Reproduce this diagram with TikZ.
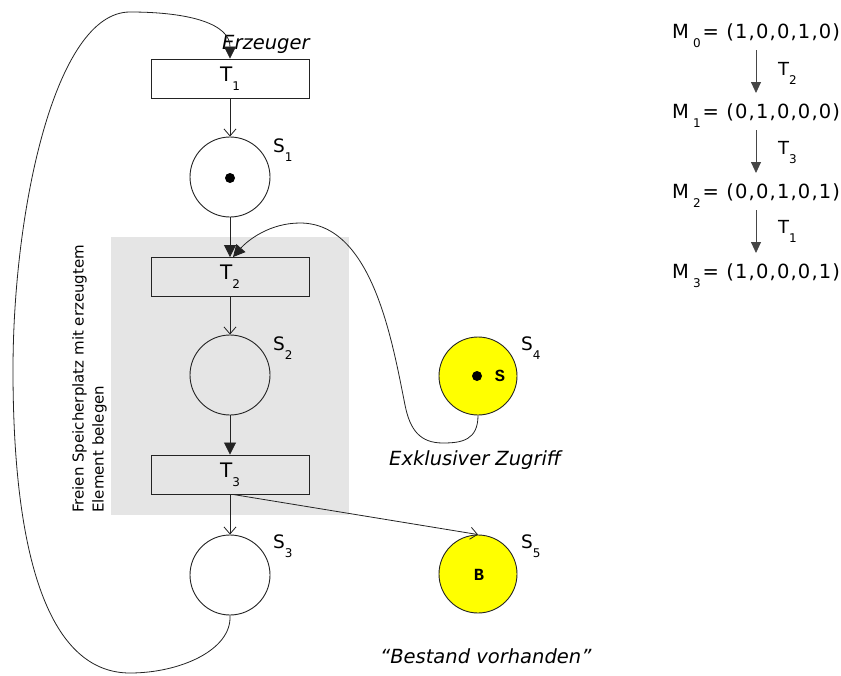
\documentclass[tikz,border=0pt]{standalone}
\usepackage{fontspec}
\setmainfont{DejaVu Sans}
\newfontfamily\monob{Liberation Mono}
\newfontfamily\wide[LetterSpace=6]{DejaVu Sans}
\usetikzlibrary{arrows.meta}
\definecolor{lgray}{RGB}{229,229,229}
\definecolor{yel}{RGB}{255,255,0}
\definecolor{ln}{RGB}{35,35,35}
\definecolor{mln}{RGB}{70,70,70}
\newcommand\mysub[1]{\raisebox{-9pt}{\fontsize{12}{12}\selectfont #1}}
\begin{document}
\begin{tikzpicture}[x=1pt,y=-1pt,
  trans/.style={draw=ln, line width=0.9pt, minimum width=158pt, minimum height=39pt, inner sep=0pt, font=\fontsize{20}{20}\selectfont},
  place/.style={circle, draw=ln, line width=0.9pt, minimum size=80pt, inner sep=0pt},
  yplace/.style={place, fill=yel, minimum size=78pt},
  token/.style={circle, fill=black, minimum size=10pt, inner sep=0pt},
  slabel/.style={anchor=base west, inner sep=0pt, font=\fontsize{18.5}{18}\selectfont},
  itlabel/.style={anchor=base west, inner sep=0pt, font=\fontsize{19.5}{20}\selectfont\itshape},
  mlabel/.style={anchor=base west, inner sep=0pt, font=\fontsize{19.5}{18}\selectfont},
  tlabel/.style={anchor=base west, inner sep=0pt, font=\fontsize{18}{17}\selectfont},
  mono/.style={font=\fontsize{17}{17}\selectfont\monob\bfseries, inner sep=0pt},
  conn/.style={draw=ln, line width=0.8pt},
  openarr/.style={conn, -{Straight Barb[length=7pt,width=12pt]}},
  fillarr/.style={conn, -{Triangle[length=12pt,width=12pt]}},
  marr/.style={draw=mln, line width=0.9pt, -{Triangle[length=11pt,width=10pt]}},
]
\useasboundingbox (0,0) rectangle (841,675);
% grey background region
\fill[lgray] (111,237) rectangle (349,515);
\node[rotate=90, anchor=north west, align=left, inner sep=0pt, font=\fontsize{15}{20}\selectfont] (region) at (72,513) {Freien Speicherplatz mit erzeugtem\\Element belegen};

% transitions
\node[trans, fill=white] (T1) at (230,78.5) {T\mysub{1}};
\node[trans] (T2) at (230,277) {T\mysub{2}};
\node[trans] (T3) at (230,474.5) {T\mysub{3}};

% places
\node[place, fill=white] (S1) at (230,177) {};
\node[place] (S2) at (230,375) {};
\node[place, fill=white] (S3) at (230,575) {};
\node[yplace] (S4) at (478,376) {};
\node[yplace] (S5) at (478,574) {};

\node[token] (tok1) at (230,178) {};
\node[token] (tok4) at (477,376) {};
\node[mono] (sem) at (500,376) {S};
\node[mono] (bes) at (479,575) {B};

% place labels
\node[slabel] (L1) at (273,152) {S\mysub{1}};
\node[slabel] (L2) at (273,350) {S\mysub{2}};
\node[slabel] (L3) at (273,548) {S\mysub{3}};
\node[slabel] (L4) at (521,350) {S\mysub{4}};
\node[slabel] (L5) at (521,548) {S\mysub{5}};

% italic captions
\node[itlabel] (erz) at (222,49) {Erzeuger};
\node[itlabel] (exk) at (389,465) {Exklusiver Zugriff};
\node[itlabel] (bst) at (380,663) {“Bestand vorhanden”};

% arcs
\draw[openarr] (T1) -- (S1);
\draw[fillarr] (S1) -- (T2);
\draw[openarr] (T2) -- (S2);
\draw[fillarr] (S2) -- (T3);
\draw[openarr] (T3) -- (S3);
\draw[openarr] ([xshift=3pt]T3.south) -- (S5.north);
\draw[fillarr] (S4.south) .. controls (478,440) and (462,443) .. (443,443)
  .. controls (420,443) and (410,430) .. (405,405)
  .. controls (392,340) and (372,223) .. (300,223)
  .. controls (270,223) and (248,240) .. ([xshift=3pt]T2.north);
\draw[fillarr] (S3.south) .. controls (232,650) and (180,673) .. (130,673)
  .. controls (50,673) and (13,560) .. (13,370)
  .. controls (13,210) and (55,12) .. (130,12)
  .. controls (190,12) and (230,24) .. (T1.north);

% marking sequence
\node[mlabel] (M0) at (672,38) {M\hspace{4pt}\mysub{0}\hspace{2pt}{\wide= (1,0,0,1,0)}};
\node[mlabel] (M1) at (672,118) {M\hspace{4pt}\mysub{1}\hspace{2pt}{\wide= (0,1,0,0,0)}};
\node[mlabel] (M2) at (672,198) {M\hspace{4pt}\mysub{2}\hspace{2pt}{\wide= (0,0,1,0,1)}};
\node[mlabel] (M3) at (672,278) {M\hspace{4pt}\mysub{3}\hspace{2pt}{\wide= (1,0,0,0,1)}};
\coordinate (a0) at (756,50);
\coordinate (b0) at (756,93);
\coordinate (a1) at (756,130);
\coordinate (b1) at (756,173);
\coordinate (a2) at (756,210);
\coordinate (b2) at (756,253);
\draw[marr] (a0) -- (b0);
\draw[marr] (a1) -- (b1);
\draw[marr] (a2) -- (b2);
\node[tlabel] (tt2) at (778,75) {T\mysub{2}};
\node[tlabel] (tt3) at (778,154) {T\mysub{3}};
\node[tlabel] (tt1) at (778,233) {T\mysub{1}};
\end{tikzpicture}
\end{document}
